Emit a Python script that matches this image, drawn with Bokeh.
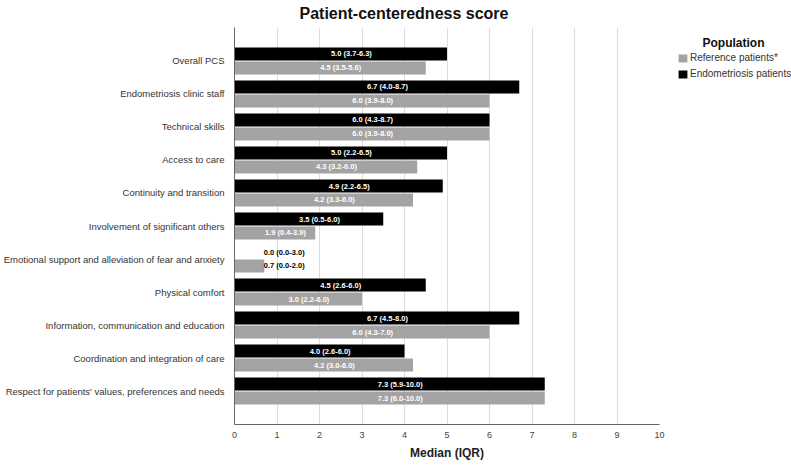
import numpy as np
from bokeh.plotting import figure
from bokeh.layouts import row
from bokeh.models import (ColumnDataSource, FactorRange, Range1d, Legend, LegendItem,
                          Label, SingleIntervalTicker)
from bokeh.transform import dodge
from bokeh.core.properties import value
from bokeh.embed import file_html
from bokeh.resources import INLINE

categories = [
    "Overall PCS",
    "Endometriosis clinic staff",
    "Technical skills",
    "Access to care",
    "Continuity and transition",
    "Involvement of significant others",
    "Emotional support and alleviation of fear and anxiety",
    "Physical comfort",
    "Information, communication and education",
    "Coordination and integration of care",
    "Respect for patients' values, preferences and needs",
]
endo_median = [5.0, 6.7, 6.0, 5.0, 4.9, 3.5, 0.0, 4.5, 6.7, 4.0, 7.3]
endo_q1 = [3.7, 4.0, 4.3, 2.2, 2.2, 0.5, 0.0, 2.6, 4.5, 2.6, 5.9]
endo_q3 = [6.3, 8.7, 8.7, 6.5, 6.5, 6.0, 3.0, 6.0, 8.0, 6.0, 10.0]
ref_median = [4.5, 6.0, 6.0, 4.3, 4.2, 1.9, 0.7, 3.0, 6.0, 4.2, 7.3]
ref_q1 = [3.5, 3.9, 3.9, 3.2, 3.3, 0.4, 0.0, 2.2, 4.3, 3.0, 6.0]
ref_q3 = [5.6, 8.0, 8.0, 6.0, 6.0, 3.9, 2.0, 6.0, 7.0, 6.0, 10.0]
series_names = ["Reference patients*", "Endometriosis patients"]

FONT = "Liberation Sans"
BLACK = "#000000"
GREY = "#a3a3a3"


def make_source(med, q1, q3):
    med = np.array(med)
    lab = [f"{m:.1f} ({a:.1f}-{b:.1f})" for m, a, b in zip(med, q1, q3)]
    inside = med >= 1.5
    lx = np.where(inside, med / 2 + 0.25, 1.17)
    tc = ["#ffffff" if i else "#000000" for i in inside]
    return ColumnDataSource(dict(cat=categories, med=med, lab=lab, lx=lx, tc=tc))


src_endo = make_source(endo_median, endo_q1, endo_q3)
src_ref = make_source(ref_median, ref_q1, ref_q3)

p = figure(
    width=665, height=465,
    y_range=FactorRange(factors=categories[::-1], range_padding=0.0936),
    x_range=Range1d(0, 10),
    output_backend="svg", toolbar_location=None,
    min_border_left=233, min_border_right=6, min_border_top=27, min_border_bottom=41,
    title="Patient-centeredness score",
)
p.outline_line_color = None
p.title.text_font = FONT
p.title.text_font_size = "16px"
p.title.text_font_style = "bold"
p.title.text_color = "#111111"
p.title.align = "left"
p.title.offset = 65
p.title.standoff = 8
p.title.vertical_align = "top"

off = 0.212
bh = 0.394
r_endo = p.hbar(y=dodge("cat", off, range=p.y_range), right="med", left=0, height=bh,
                source=src_endo, fill_color=BLACK, line_color=None)
r_ref = p.hbar(y=dodge("cat", -off, range=p.y_range), right="med", left=0, height=bh,
               source=src_ref, fill_color=GREY, line_color=None)

for src, o in ((src_endo, off), (src_ref, -off)):
    p.text(x="lx", y=dodge("cat", o, range=p.y_range), text="lab", source=src,
           text_align="center", text_baseline="middle", text_color="tc",
           text_font=value(FONT), text_font_style="bold", text_font_size="7.5px")

# axes
p.xaxis.ticker = SingleIntervalTicker(interval=1)
p.xaxis.major_tick_line_color = None
p.xaxis.minor_tick_line_color = None
p.xaxis.axis_line_color = "#666666"
p.xaxis.major_label_text_font = FONT
p.xaxis.major_label_text_font_size = "9px"
p.xaxis.major_label_text_color = "#444444"
p.xaxis.major_label_standoff = 1
p.xaxis.axis_label = "Median (IQR)"
p.xaxis.axis_label_text_font = FONT
p.xaxis.axis_label_text_font_style = "bold"
p.xaxis.axis_label_text_font_size = "12px"
p.xaxis.axis_label_text_color = "#222222"
p.xaxis.axis_label_standoff = 5

p.yaxis.major_tick_line_color = None
p.yaxis.minor_tick_line_color = None
p.yaxis.axis_line_color = "#666666"
p.yaxis.major_label_text_font = FONT
p.yaxis.major_label_text_font_size = "9.5px"
p.yaxis.major_label_text_color = "#333333"
p.yaxis.major_label_standoff = 4

p.xgrid.grid_line_color = "#dcdcdc"
p.ygrid.grid_line_color = None

# legend panel (separate figure to the right); its frame is aligned with the main frame
p2 = figure(width=126, height=465, x_range=Range1d(0, 126), y_range=Range1d(424, 27),
            output_backend="svg", toolbar_location=None,
            x_axis_location=None, y_axis_location=None,
            min_border_left=0, min_border_right=0, min_border_top=0, min_border_bottom=0)
p2.outline_line_color = None
p2.xgrid.grid_line_color = None
p2.ygrid.grid_line_color = None
# zero-width proxy bars, used only to give the legend its swatches
proxy = ColumnDataSource(dict(y=[200], left=[0], right=[0]))
l_ref = p2.hbar(y="y", left="left", right="right", height=1, source=proxy,
                fill_color=GREY, line_color=None)
l_endo = p2.hbar(y="y", left="left", right="right", height=1, source=proxy,
                 fill_color=BLACK, line_color=None)

legend = Legend(
    items=[LegendItem(label=series_names[0], renderers=[l_ref]),
           LegendItem(label=series_names[1], renderers=[l_endo])],
    location=(12, 345), padding=0, margin=0, spacing=5,
    glyph_width=11, glyph_height=10, label_height=10, label_standoff=2,
    label_text_font=FONT, label_text_font_size="10px", label_text_color="#333333",
    border_line_color=None, background_fill_alpha=0,
)
p2.add_layout(legend)
p2.add_layout(Label(x=68, y=42, text="Population", text_align="center",
                    text_baseline="middle", text_font=FONT, text_font_style="bold",
                    text_font_size="12px", text_color="#111111"))

layout = row(p, p2)
open("out.html", "w").write(file_html(layout, INLINE))
